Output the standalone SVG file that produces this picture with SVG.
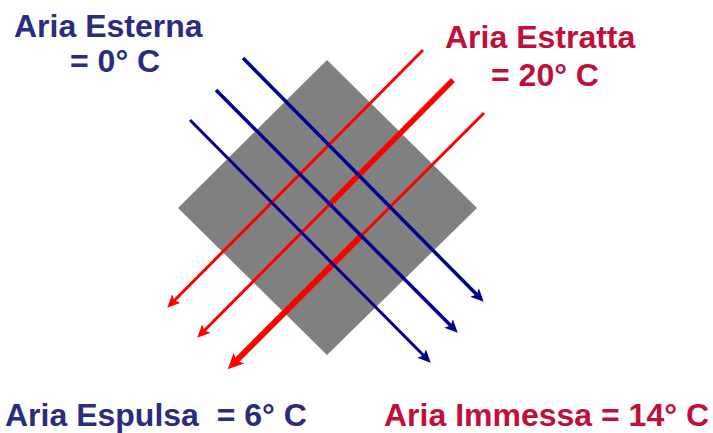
<svg xmlns="http://www.w3.org/2000/svg" width="713" height="433" viewBox="0 0 713 433">
  <style>
    .lbl { font-family: "Liberation Sans", Arial, sans-serif; font-weight: bold; font-size: 32px; }
    .blueT { fill: #2a2d7c; }
    .redT { fill: #c0103a; }
    .bl { stroke: #000090; fill: none; stroke-linecap: butt; }
    .rd { stroke: #ff0000; fill: none; stroke-linecap: butt; }
  </style>
  <defs>
    <marker id="ahB" markerUnits="userSpaceOnUse" markerWidth="14" markerHeight="12" refX="4" refY="6" orient="auto">
      <path d="M0,0 L13,6 L0,12 L3,6 z" fill="#000090"/>
    </marker>
    <marker id="ahR" markerUnits="userSpaceOnUse" markerWidth="14" markerHeight="12" refX="4" refY="6" orient="auto">
      <path d="M0,0 L13,6 L0,12 L3,6 z" fill="#ff0000"/>
    </marker>
    <marker id="ahRL" markerUnits="userSpaceOnUse" markerWidth="17" markerHeight="15" refX="5" refY="7.5" orient="auto">
      <path d="M0,0 L16,7.5 L0,15 L4,7.5 z" fill="#ff0000"/>
    </marker>
  </defs>
  <rect width="713" height="433" fill="#ffffff"/>

  <g id="exchanger">
    <polygon points="327,60 477,208 327,355 178,208" fill="#808080"/>
  </g>

  <g id="connectors">
    <g id="red-a">
      <line class="rd" x1="423" y1="50" x2="173.6" y2="301.3" stroke-width="3" marker-end="url(#ahR)"/>
    </g>
    <g id="red-b">
      <line class="rd" x1="453" y1="80" x2="331" y2="203" stroke-width="5.5"/>
      <line class="rd" x1="332" y1="202" x2="203.6" y2="331.3" stroke-width="3" marker-end="url(#ahR)"/>
    </g>
    <g id="red-c">
      <line class="rd" x1="484" y1="113" x2="361" y2="236" stroke-width="3"/>
      <line class="rd" x1="362" y1="235" x2="235.5" y2="361.5" stroke-width="6" marker-end="url(#ahRL)"/>
    </g>
    <g id="blue-1">
      <line class="bl" x1="243" y1="58" x2="477.4" y2="295.3" stroke-width="3.5" marker-end="url(#ahB)"/>
    </g>
    <g id="blue-2">
      <line class="bl" x1="216" y1="90" x2="451.4" y2="326.3" stroke-width="3.5" marker-end="url(#ahB)"/>
    </g>
    <g id="blue-3">
      <line class="bl" x1="190" y1="120" x2="424.4" y2="356.3" stroke-width="3" marker-end="url(#ahB)"/>
    </g>
  </g>

  <g id="aria-esterna">
    <text class="lbl blueT" x="14" y="37">Aria Esterna</text>
    <text class="lbl blueT" x="70" y="72">= 0° C</text>
  </g>
  <g id="aria-estratta">
    <text class="lbl redT" x="445" y="48">Aria Estratta</text>
    <text class="lbl redT" x="491" y="86">= 20° C</text>
  </g>
  <g id="aria-espulsa">
    <text class="lbl blueT" x="5" y="426" xml:space="preserve">Aria Espulsa  = 6° C</text>
  </g>
  <g id="aria-immessa">
    <text class="lbl redT" x="384" y="426">Aria Immessa = 14° C</text>
  </g>
</svg>
